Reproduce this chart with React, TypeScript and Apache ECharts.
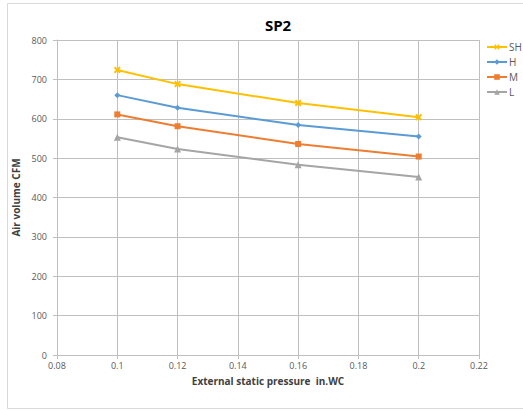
import React, { useEffect, useRef } from "react";
import * as echarts from "echarts";

const pressures = [0.1, 0.12, 0.16, 0.2];
const seriesNames = ["SH", "H", "M", "L"];
const shValues = [724, 688, 640, 604];
const hValues = [660, 628, 584, 555];
const mValues = [611, 581, 536, 504];
const lValues = [553, 523, 483, 452];
const colors = ["#FFC000", "#5B9BD5", "#ED7D31", "#A5A5A5"];

const xSymbol = "path://M2,0L5,3L8,0L10,2L7,5L10,8L8,10L5,7L2,10L0,8L3,5L0,2Z";
const symbols = [xSymbol, "diamond", "rect", "triangle"];
const symbolSizes = [7, 6, 6, 7];

const FONT = "'Open Sans', 'Noto Sans', sans-serif";

export default function App() {
  const ref = useRef<HTMLDivElement>(null);
  useEffect(() => {
    if (!ref.current) return;
    const chart = echarts.init(ref.current, undefined, { renderer: "svg" });
    const all = [shValues, hValues, mValues, lValues];
    chart.setOption({
      animation: false,
      backgroundColor: "#fff",
      title: {
        text: "SP2",
        left: 273,
        textAlign: "center",
        top: 12,
        textStyle: { fontSize: 15, fontWeight: "bold", color: "#000", fontFamily: FONT },
      },
      graphic: [
        {
          type: "rect",
          shape: { x: 7.5, y: 3.5, width: 540, height: 405 },
          style: { fill: "none", stroke: "#d9d9d9", lineWidth: 1 },
          silent: true,
        },
      ],
      legend: {
        orient: "vertical",
        left: 486,
        top: 42,
        padding: 0,
        itemWidth: 20,
        itemHeight: 7,
        itemGap: 5,
        data: seriesNames,
        textStyle: { fontSize: 10, color: "#595959", fontFamily: FONT, padding: [0, 0, 0, -3] },
      },
      grid: { left: 57, right: 44, top: 40, bottom: 55, containLabel: false },
      xAxis: {
        type: "value",
        min: 0.08,
        max: 0.22,
        interval: 0.02,
        name: "External static pressure  in.WC",
        nameLocation: "middle",
        nameGap: 21,
        nameTextStyle: { fontSize: 10, fontWeight: "bold", color: "#404040", fontFamily: FONT },
        axisLine: { show: true, lineStyle: { color: "#bfbfbf" } },
        axisTick: { show: true, length: 4, lineStyle: { color: "#bfbfbf" } },
        axisLabel: {
          fontSize: 9,
          color: "#595959",
          fontFamily: FONT,
          margin: 6,
          formatter: (v: number) => String(parseFloat(v.toFixed(2))),
        },
        splitLine: { show: true, lineStyle: { color: "#bfbfbf" } },
      },
      yAxis: {
        type: "value",
        min: 0,
        max: 800,
        interval: 100,
        name: "Air volume CFM",
        nameLocation: "middle",
        nameRotate: 90,
        nameGap: 31,
        nameTextStyle: { fontSize: 10, fontWeight: "bold", color: "#404040", fontFamily: FONT },
        axisLine: { show: true, lineStyle: { color: "#bfbfbf" } },
        axisTick: { show: true, length: 4, lineStyle: { color: "#bfbfbf" } },
        axisLabel: { fontSize: 9, color: "#595959", fontFamily: FONT, margin: 10 },
        splitLine: { show: true, lineStyle: { color: "#bfbfbf" } },
      },
      series: seriesNames.map((name, i) => ({
        name,
        type: "line",
        data: pressures.map((p, j) => [p, all[i][j]]),
        symbol: symbols[i],
        symbolSize: symbolSizes[i],
        showSymbol: true,
        lineStyle: { color: colors[i], width: 2 },
        itemStyle: { color: colors[i] },
      })),
    });
    return () => chart.dispose();
  }, []);
  return (
    <div
      ref={ref}
      style={{ position: "fixed", left: 0, top: 0, width: 523, height: 410 }}
    />
  );
}
